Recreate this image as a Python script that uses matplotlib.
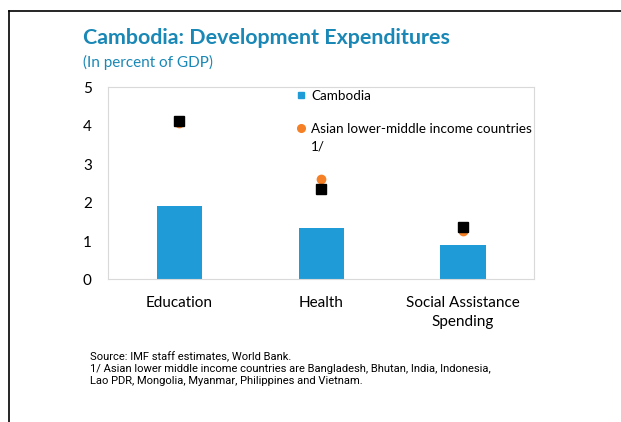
import matplotlib.pyplot as plt
from matplotlib.lines import Line2D

plt.rcParams['font.family'] = ['Lato', 'DejaVu Sans']

categories = ['Education', 'Health', 'Social Assistance\nSpending']
cambodia = [1.91, 1.35, 0.91]
asian_lmic = [4.07, 2.61, 1.25]
other_ref = [4.12, 2.35, 1.36]

blue = '#1F9BD7'
orange = '#F58025'
title_blue = '#1A88B6'

fig = plt.figure(figsize=(6.21, 4.22), dpi=100)
ax = fig.add_axes([0.1747, 0.3377, 0.6853, 0.455])

x = list(range(len(categories)))
ax.bar(x, cambodia, width=0.32, color=blue, zorder=2)
ax.plot(x, asian_lmic, 'o', color=orange, markersize=6, zorder=3)
ax.plot(x, other_ref, 's', color='black', markersize=6.5, zorder=4)

ax.set_xlim(-0.5, 2.5)
ax.set_ylim(0, 5)
ax.set_yticks([0, 1, 2, 3, 4, 5])
ax.set_xticks(x)
ax.set_xticklabels(categories, fontsize=11, linespacing=1.4)
ax.tick_params(axis='both', length=0, labelsize=11)
ax.tick_params(axis='y', pad=12)
ax.tick_params(axis='x', pad=12)
for s in ax.spines.values():
    s.set_color('#D9D9D9')
    s.set_linewidth(0.8)

handles = [Line2D([], [], marker='s', color=blue, linestyle='none', markersize=5),
           Line2D([], [], marker='o', color=orange, linestyle='none', markersize=5.5)]
leg = ax.legend(handles, ['Cambodia', 'Asian lower-middle income countries'],
                loc='upper left', bbox_to_anchor=(0.438, 1.0), frameon=False,
                fontsize=9.7, borderpad=0, borderaxespad=0.15, handlelength=0.6,
                handletextpad=0.45, labelspacing=1.6)
# second line of the legend label, under its text (drawn after the legend)
ax.annotate('1/', xy=(0, 0), xycoords=leg.get_texts()[1], xytext=(0, -4),
            textcoords='offset points', va='top', fontsize=9.7, zorder=6)

# titles
fig.text(83 / 621, 1 - 44.5 / 422, 'Cambodia: Development Expenditures',
         fontsize=15.4, fontweight='bold', color=title_blue, va='baseline')
fig.text(83 / 621, 1 - 67 / 422, '(In percent of GDP)',
         fontsize=11, color=title_blue, va='baseline')

# source notes
notes = ('Source: IMF staff estimates, World Bank.\n'
         '1/ Asian lower middle income countries are Bangladesh, Bhutan, India, Indonesia,\n'
         'Lao PDR, Mongolia, Myanmar, Philippines and Vietnam.')
fig.text(90 / 621, 1 - 352 / 422, notes, fontsize=8, va='top',
         family=['Roboto', 'DejaVu Sans'], linespacing=1.22)

# outer frame lines
fig.add_artist(Line2D([8.5 / 621, 1], [1 - 10.5 / 422, 1 - 10.5 / 422],
                      color='black', linewidth=1.2, transform=fig.transFigure))
fig.add_artist(Line2D([8.5 / 621, 8.5 / 621], [0, 1 - 10.5 / 422],
                      color='black', linewidth=1.2, transform=fig.transFigure))

plt.savefig('out.png', dpi=100)
